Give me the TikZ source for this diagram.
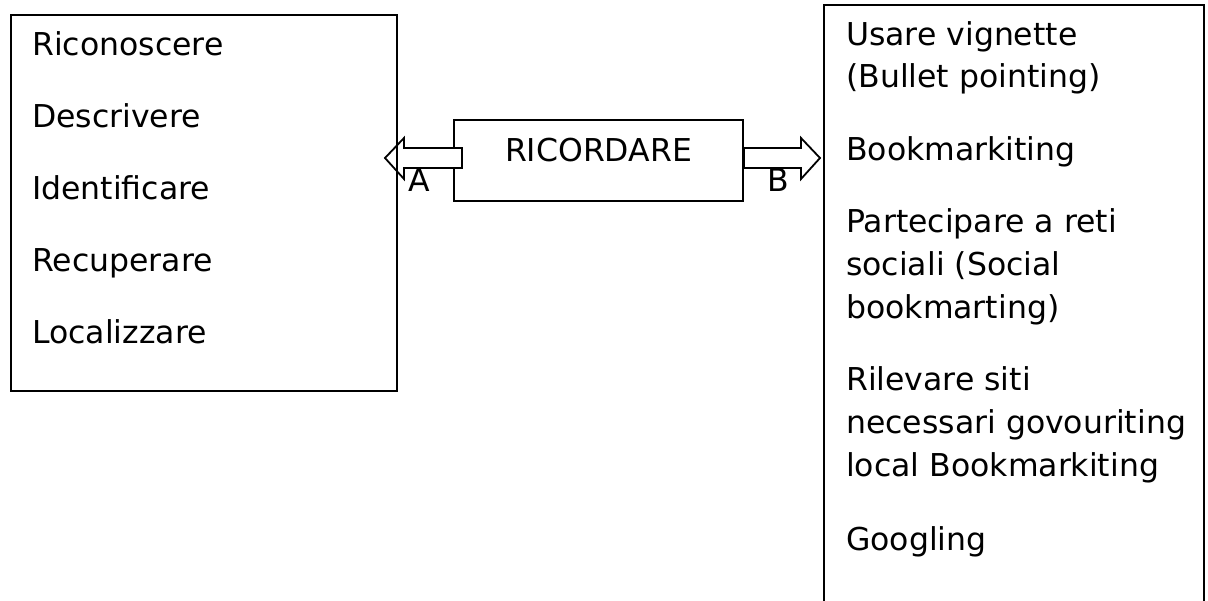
\documentclass[tikz,border=0pt]{standalone}
\usepackage{fontspec}
\setmainfont{DejaVu Sans}
\tikzset{
  box/.style={draw, line width=2pt, inner sep=0pt},
  txt/.style={inner sep=0pt, font=\fontsize{31.5}{43}\selectfont},
  fatarrow/.style={draw, fill=white, line width=1.8pt, line join=miter}
}
\begin{document}
\begin{tikzpicture}[x=1pt, y=-1pt]
\useasboundingbox (0,0) rectangle (1208,601);
% boxes
\node[box, minimum width=289pt, minimum height=81pt] (ricordare) at (598.5,160.5) {};
\node[txt, anchor=base] (titolo) at (598.5,162) {RICORDARE};
% arrows A and B
\draw[fatarrow] (ricordare.west) ++(9,-12.5) -- ++(-58,0) -- ++(0,-10) -- ++(-19,20)
  -- ++(19,21) -- ++(0,-11) -- ++(58,0) -- cycle;
\draw[fatarrow] (ricordare.east) ++(0,-12.5) -- ++(57,0) -- ++(0,-10) -- ++(19,20)
  -- ++(-19,21) -- ++(0,-11) -- ++(-57,0) -- cycle;
\node[txt, anchor=base] (a) at (419,192) {A};
\node[txt, anchor=base] (b) at (778,192) {B};
\node[box, anchor=north west, minimum width=386pt, minimum height=376pt] (abilita) at (10,14) {};
\node[box, anchor=north west, minimum width=380pt, minimum height=640pt] (strumenti) at (823,4) {};
% left list
\foreach \y/\t [count=\i] in {56/Riconoscere, 128/Descrivere, 200/Identificare, 272/Recuperare, 344/Localizzare}
  \node[txt, anchor=base west] (l\i) at (32,\y) {\t};
% right list
\foreach \y/\t [count=\i] in {46/Usare vignette, 88/{(Bullet pointing)}, 161/Bookmarkiting,
  233/Partecipare a reti, 276/sociali (Social, 319/{bookmarting)}, 391/Rilevare siti,
  434/necessari govouriting, 477/local Bookmarkiting, 550/Googling}
  \node[txt, anchor=base west] (r\i) at (846,\y) {\t};
\end{tikzpicture}
\end{document}
